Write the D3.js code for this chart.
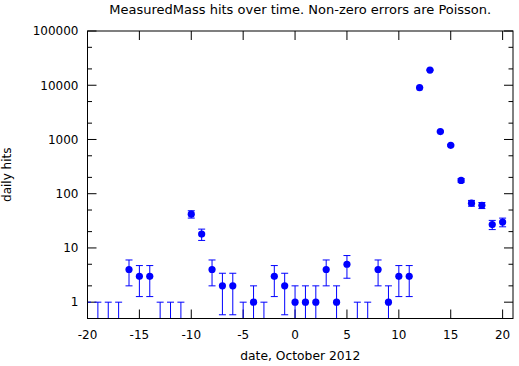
<!DOCTYPE html>
<html>
<head>
<meta charset="utf-8">
<script src="https://d3js.org/d3.v7.min.js"></script>
<style>
  body { margin: 0; background: #fff; }
  text { font-family: "DejaVu Sans", sans-serif; }
</style>
</head>
<body>
<div id="chart"></div>
<script>
// day offsets (October 2012) and hits per day
const days = [-20, -19, -18, -17, -16, -15, -14, -13, -12, -11,
              -10, -9, -8, -7, -6, -5, -4, -3, -2, -1,
              0, 1, 2, 3, 4, 5, 6, 7, 8, 9,
              10, 11, 12, 13, 14, 15, 16, 17, 18, 19, 20];
const hits = [0, 0, 0, 0, 4, 3, 3, 0, 0, 0,
              42, 18, 4, 2, 2, 0, 1, 0, 3, 2,
              1, 1, 1, 4, 1, 5, 0, 0, 4, 1,
              3, 3, 9000, 19000, 1400, 780, 176, 67, 61, 27, 30];

const xTicks = [-20, -15, -10, -5, 0, 5, 10, 15, 20];
const yTicks = [1, 10, 100, 1000, 10000, 100000];
const yMinor = [0.5, 2, 5, 20, 50, 200, 500, 2000, 5000, 20000, 50000];

const W = 519, H = 366;
var margin = {top: 31, right: 6, bottom: 47.5, left: 87.5},
    width = W - margin.left - margin.right,
    height = H - margin.top - margin.bottom;

var svg = d3.select("#chart").append("svg")
    .attr("width", W)
    .attr("height", H);

var g = svg.append("g")
    .attr("transform", "translate(" + margin.left + "," + margin.top + ")");

var x = d3.scaleLinear().domain([-20, 21]).range([0, width]);
var y = d3.scaleLog().domain([0.5, 100000]).range([height, 0]);

// error is sqrt(n) for non-zero counts, 1 for zero
var data = days.map(function(d, i) {
  var n = hits[i];
  var e = n > 0 ? Math.sqrt(n) : 1;
  return {day: d, n: n, lo: n - e, hi: n + e};
});

g.append("clipPath").attr("id", "clip")
  .append("rect").attr("width", width).attr("height", height);

// ticks (inward, mirrored)
function tickLines(vals, len) {
  vals.forEach(function(v) {
    var yy = y(v);
    if (yy < 0 || yy > height) return;
    g.append("line").attr("x1", 0).attr("x2", len).attr("y1", yy).attr("y2", yy)
      .attr("stroke", "#000");
    g.append("line").attr("x1", width).attr("x2", width - len).attr("y1", yy).attr("y2", yy)
      .attr("stroke", "#000");
  });
}
tickLines(yTicks, 9);
tickLines(yMinor, 4.5);

xTicks.forEach(function(v) {
  var xx = x(v);
  g.append("line").attr("x1", xx).attr("x2", xx).attr("y1", height).attr("y2", height - 9)
    .attr("stroke", "#000");
  g.append("line").attr("x1", xx).attr("x2", xx).attr("y1", 0).attr("y2", 9)
    .attr("stroke", "#000");
});

// tick labels
g.selectAll(".ylab").data(yTicks).enter().append("text")
  .attr("x", -9)
  .attr("y", function(d) { return y(d); })
  .attr("dy", "0.36em")
  .attr("text-anchor", "end")
  .attr("font-size", "12px")
  .text(function(d) { return d; });

g.selectAll(".xlab").data(xTicks).enter().append("text")
  .attr("x", function(d) { return x(d); })
  .attr("y", height + 20)
  .attr("text-anchor", "middle")
  .attr("font-size", "12px")
  .text(function(d) { return d; });

// error bars
var bars = g.append("g").attr("clip-path", "url(#clip)");
var cap = 3.5;
data.forEach(function(d) {
  var xx = x(d.day);
  var yLo = d.lo > 0 ? y(d.lo) : height + 5;
  var yHi = y(d.hi);
  bars.append("line").attr("x1", xx).attr("x2", xx).attr("y1", yLo).attr("y2", yHi)
    .attr("stroke", "#0000ff");
  bars.append("line").attr("x1", xx - cap).attr("x2", xx + cap).attr("y1", yHi).attr("y2", yHi)
    .attr("stroke", "#0000ff");
  if (d.lo > 0) {
    bars.append("line").attr("x1", xx - cap).attr("x2", xx + cap).attr("y1", yLo).attr("y2", yLo)
      .attr("stroke", "#0000ff");
  }
});

// points
bars.selectAll(".pt").data(data.filter(function(d) { return d.n > 0; }))
  .enter().append("circle")
  .attr("cx", function(d) { return x(d.day); })
  .attr("cy", function(d) { return y(d.n); })
  .attr("r", 3.6)
  .attr("fill", "#0000ff");

// frame
g.append("rect").attr("width", width).attr("height", height)
  .attr("fill", "none").attr("stroke", "#000");

// titles
svg.append("text")
  .attr("x", margin.left + width / 2)
  .attr("y", 14)
  .attr("text-anchor", "middle")
  .attr("font-size", "13px")
  .text("MeasuredMass hits over time. Non-zero errors are Poisson.");

svg.append("text")
  .attr("x", margin.left + width / 2)
  .attr("y", 360)
  .attr("text-anchor", "middle")
  .attr("font-size", "12.3px")
  .text("date, October 2012");

svg.append("text")
  .attr("transform", "translate(11," + (margin.top + height / 2) + ") rotate(-90)")
  .attr("text-anchor", "middle")
  .attr("font-size", "12px")
  .text("daily hits");
</script>
</body>
</html>
